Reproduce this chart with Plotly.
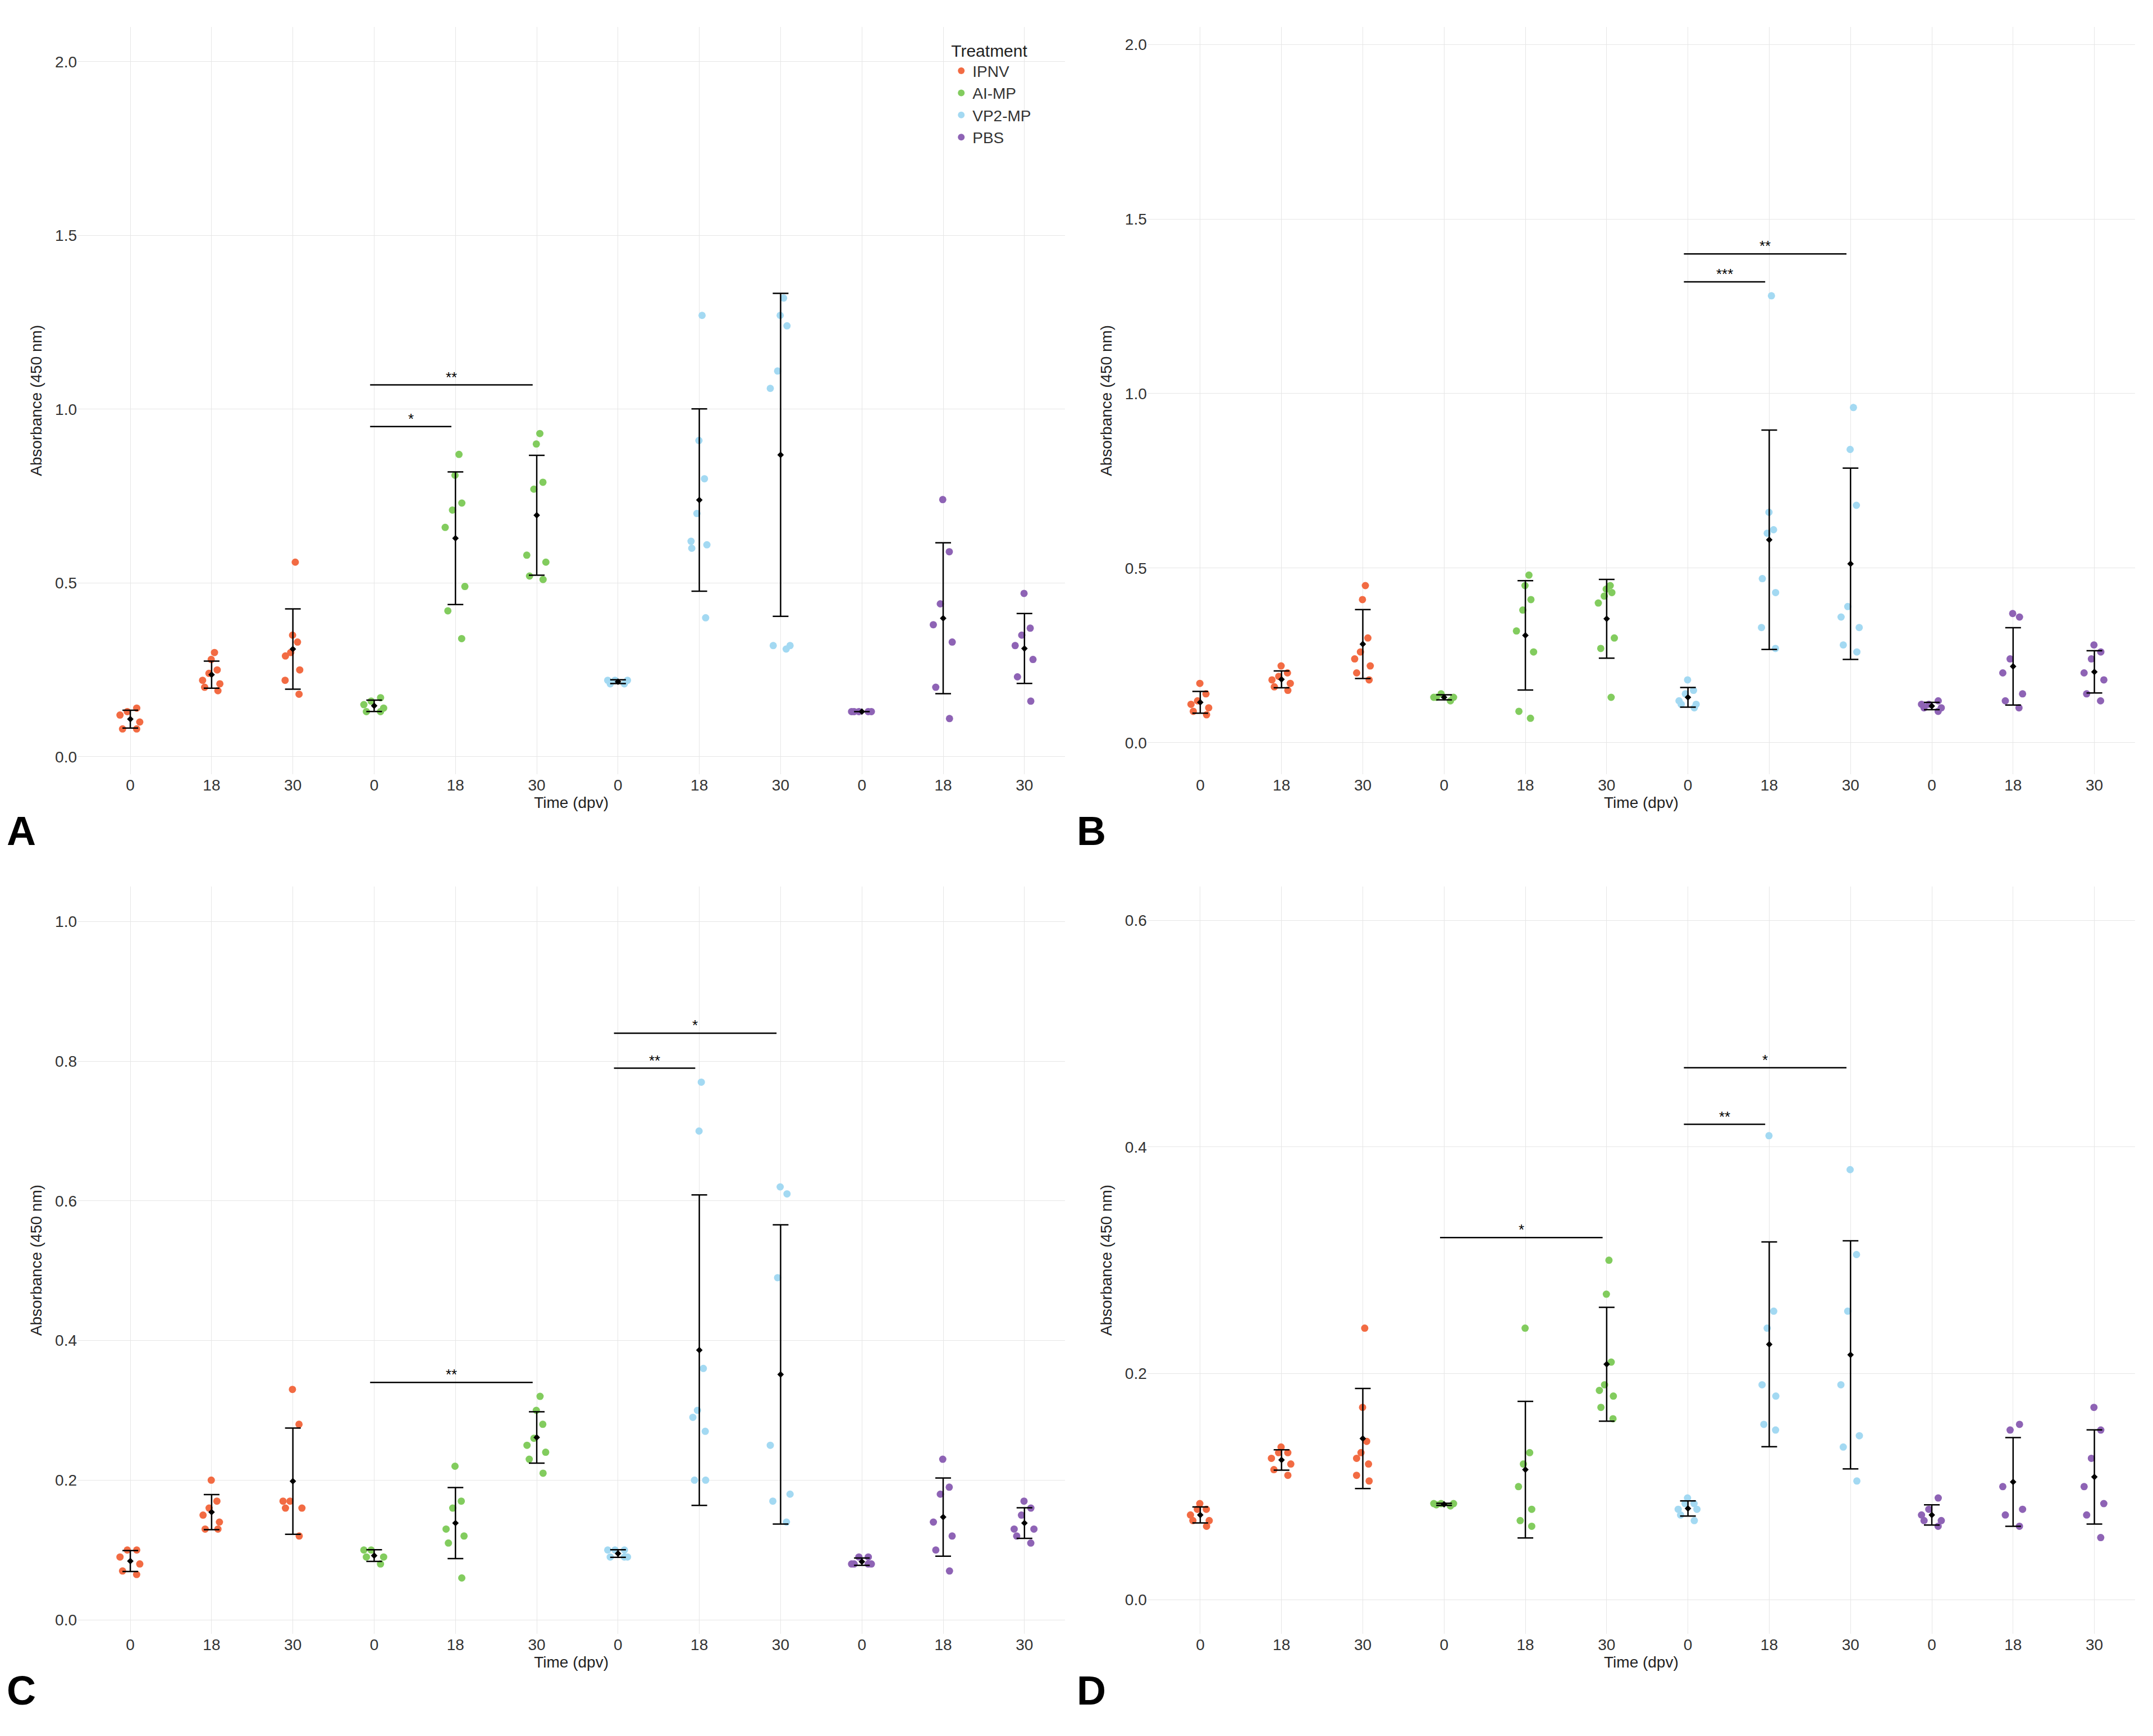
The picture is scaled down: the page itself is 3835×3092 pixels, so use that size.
import numpy as np
import plotly.graph_objects as go
from plotly.subplots import make_subplots

treatments = ["IPNV", "AI-MP", "VP2-MP", "PBS"]
times = ["0", "18", "30"]
colors = {"IPNV": "#F26B43", "AI-MP": "#82CC5E", "VP2-MP": "#A3D9F2", "PBS": "#8E63B5"}

# panel A
A = {
    "IPNV": [[0.13, 0.08, 0.10, 0.14, 0.08, 0.12],
             [0.30, 0.25, 0.22, 0.20, 0.21, 0.24, 0.19, 0.28],
             [0.56, 0.30, 0.35, 0.25, 0.22, 0.18, 0.33, 0.29]],
    "AI-MP": [[0.17, 0.13, 0.16, 0.14, 0.15, 0.13],
              [0.87, 0.81, 0.73, 0.71, 0.66, 0.49, 0.42, 0.34],
              [0.93, 0.90, 0.79, 0.77, 0.58, 0.56, 0.52, 0.51]],
    "VP2-MP": [[0.22, 0.21, 0.22, 0.21, 0.22],
               [1.27, 0.91, 0.80, 0.70, 0.62, 0.61, 0.60, 0.40],
               [1.32, 1.27, 1.24, 1.11, 1.06, 0.32, 0.32, 0.31]],
    "PBS": [[0.13, 0.13, 0.13, 0.13, 0.13],
            [0.74, 0.59, 0.44, 0.38, 0.33, 0.20, 0.11],
            [0.47, 0.37, 0.35, 0.32, 0.28, 0.23, 0.16]],
}
B = {
    "IPNV": [[0.17, 0.14, 0.12, 0.10, 0.08, 0.09, 0.11],
             [0.22, 0.19, 0.17, 0.16, 0.15, 0.18, 0.20],
             [0.45, 0.41, 0.30, 0.24, 0.22, 0.20, 0.18, 0.26]],
    "AI-MP": [[0.13, 0.14, 0.13, 0.12, 0.13],
              [0.48, 0.45, 0.41, 0.38, 0.32, 0.26, 0.09, 0.07],
              [0.45, 0.44, 0.43, 0.42, 0.40, 0.30, 0.27, 0.13]],
    "VP2-MP": [[0.18, 0.15, 0.14, 0.12, 0.11, 0.10, 0.11],
               [1.28, 0.66, 0.61, 0.60, 0.47, 0.43, 0.33, 0.27],
               [0.96, 0.84, 0.68, 0.39, 0.36, 0.33, 0.28, 0.26]],
    "PBS": [[0.12, 0.11, 0.10, 0.09, 0.11, 0.10],
            [0.37, 0.36, 0.24, 0.20, 0.14, 0.12, 0.10],
            [0.28, 0.26, 0.24, 0.20, 0.18, 0.14, 0.12]],
}
C = {
    "IPNV": [[0.10, 0.09, 0.07, 0.08, 0.065, 0.10],
             [0.20, 0.17, 0.16, 0.15, 0.14, 0.13, 0.13],
             [0.33, 0.28, 0.17, 0.17, 0.16, 0.16, 0.12]],
    "AI-MP": [[0.10, 0.09, 0.08, 0.09, 0.10],
              [0.22, 0.17, 0.16, 0.13, 0.12, 0.11, 0.06],
              [0.32, 0.30, 0.28, 0.26, 0.25, 0.24, 0.23, 0.21]],
    "VP2-MP": [[0.10, 0.09, 0.10, 0.09, 0.10, 0.09],
               [0.77, 0.70, 0.36, 0.30, 0.29, 0.27, 0.20, 0.20],
               [0.62, 0.61, 0.49, 0.25, 0.18, 0.17, 0.14]],
    "PBS": [[0.09, 0.08, 0.08, 0.09, 0.08, 0.08],
            [0.23, 0.19, 0.18, 0.14, 0.12, 0.10, 0.07],
            [0.17, 0.16, 0.15, 0.13, 0.12, 0.11, 0.13]],
}
D = {
    "IPNV": [[0.085, 0.08, 0.075, 0.07, 0.065, 0.08, 0.07],
             [0.135, 0.13, 0.125, 0.12, 0.115, 0.13, 0.11],
             [0.24, 0.17, 0.14, 0.13, 0.12, 0.11, 0.105, 0.125]],
    "AI-MP": [[0.085, 0.085, 0.083, 0.084, 0.085],
              [0.24, 0.13, 0.12, 0.10, 0.08, 0.07, 0.065],
              [0.30, 0.27, 0.21, 0.19, 0.185, 0.18, 0.17, 0.16]],
    "VP2-MP": [[0.09, 0.085, 0.08, 0.075, 0.07, 0.08, 0.085],
               [0.41, 0.255, 0.24, 0.19, 0.18, 0.155, 0.15],
               [0.38, 0.305, 0.255, 0.19, 0.145, 0.135, 0.105]],
    "PBS": [[0.09, 0.08, 0.075, 0.07, 0.065, 0.07],
            [0.155, 0.15, 0.10, 0.08, 0.075, 0.065],
            [0.17, 0.15, 0.125, 0.10, 0.085, 0.075, 0.055]],
}

# significance: (start group, end group, y, label)
sig = {
    "A": [(3, 4, 0.95, "*"), (3, 5, 1.07, "**")],
    "B": [(6, 7, 1.32, "***"), (6, 8, 1.40, "**")],
    "C": [(3, 5, 0.34, "**"), (6, 7, 0.79, "**"), (6, 8, 0.84, "*")],
    "D": [(3, 5, 0.32, "*"), (6, 7, 0.42, "**"), (6, 8, 0.47, "*")],
}
yranges = {"A": [-0.05, 2.1], "B": [-0.09, 2.05], "C": [-0.02, 1.05], "D": [-0.03, 0.63]}
ydtick = {"A": 0.5, "B": 0.5, "C": 0.2, "D": 0.2}
panels = [("A", A), ("B", B), ("C", C), ("D", D)]

fig = make_subplots(rows=2, cols=2, horizontal_spacing=0.04, vertical_spacing=0.07)
font = "Liberation Sans"

for k, (name, data) in enumerate(panels):
    r, c = k // 2 + 1, k % 2 + 1
    for ti, t in enumerate(treatments):
        if k == 0:
            # legend entry only
            fig.add_trace(go.Scatter(x=[None], y=[None], mode="markers", name=t,
                                     marker=dict(color=colors[t], size=14)), row=r, col=c)
        for gi, vals in enumerate(data[t]):
            pos = ti * 3 + gi
            fig.add_trace(go.Box(
                x=[pos] * len(vals), y=vals, boxpoints="all", jitter=0.6, pointpos=0,
                width=0.5, line=dict(width=0), fillcolor="rgba(0,0,0,0)",
                marker=dict(color=colors[t], size=13), name=t, showlegend=False),
                row=r, col=c)
            v = np.array(vals)
            fig.add_trace(go.Scatter(
                x=[pos], y=[v.mean()], mode="markers",
                marker=dict(color="black", size=9, symbol="diamond"),
                error_y=dict(type="data", array=[v.std(ddof=1)], color="black",
                             thickness=2.5, width=14),
                showlegend=False), row=r, col=c)
    xref = "x" if k == 0 else f"x{k+1}"
    yref = "y" if k == 0 else f"y{k+1}"
    for a, b, y, lab in sig[name]:
        fig.add_shape(type="line", x0=a - 0.05, x1=b - 0.05, y0=y, y1=y,
                      xref=xref, yref=yref, line=dict(color="black", width=2.5))
        fig.add_annotation(x=(a + b) / 2 - 0.05, y=y, xref=xref, yref=yref, text=lab,
                           showarrow=False, yshift=14, font=dict(size=26, color="black"))
    fig.update_xaxes(tickvals=list(range(12)), ticktext=times * 4, range=[-0.65, 11.5],
                     showgrid=True, gridcolor="#E6E6E6", zeroline=False,
                     tickfont=dict(size=28, color="#333"), ticks="", row=r, col=c,
                     title=dict(text="Time (dpv)", font=dict(size=28, color="#222"), standoff=4))
    fig.update_yaxes(range=yranges[name], dtick=ydtick[name], tickformat=".1f",
                     showgrid=True, gridcolor="#E6E6E6", zeroline=False,
                     tickfont=dict(size=28, color="#333"), row=r, col=c,
                     title=dict(text="Absorbance (450 nm)", font=dict(size=28, color="#222")))
    dom_x = fig.layout[f"xaxis{'' if k == 0 else k+1}"].domain
    dom_y = fig.layout[f"yaxis{'' if k == 0 else k+1}"].domain
    fig.add_annotation(x=dom_x[0] - 0.035, y=dom_y[0] - 0.05, xref="paper", yref="paper",
                       text=f"<b>{name}</b>", showarrow=False, xanchor="left", yanchor="bottom",
                       font=dict(size=72, color="black"))

fig.update_layout(
    width=3835, height=3092, plot_bgcolor="white", paper_bgcolor="white",
    boxmode="overlay", font=dict(family=font),
    margin=dict(l=130, r=40, t=40, b=190),
    legend=dict(x=0.465, y=0.995, xanchor="right", yanchor="top", bgcolor="rgba(0,0,0,0)",
                title=dict(text="Treatment", font=dict(size=30, color="#222")),
                font=dict(size=28, color="#333"), itemsizing="constant"),
)
fig.write_html("out.html")
